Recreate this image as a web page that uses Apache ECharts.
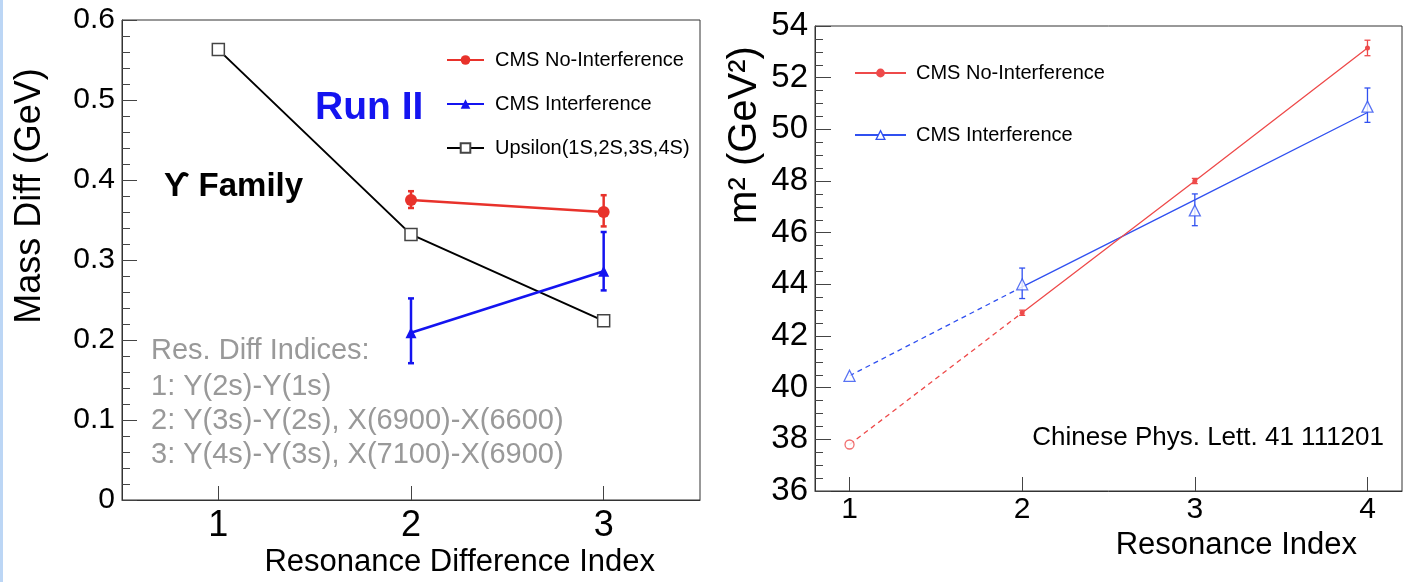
<!DOCTYPE html>
<html>
<head>
<meta charset="utf-8">
<script src="https://cdn.jsdelivr.net/npm/echarts@6/dist/echarts.min.js"></script>
<style>
  html, body { margin: 0; padding: 0; background: #fff; }
  #main { width: 1407px; height: 582px; }
  #edge { position: absolute; left: 0; top: 0; width: 3px; height: 582px; background: #bcd6f5; }
</style>
</head>
<body>
<div id="main"></div>
<div id="edge"></div>
<script>
// left panel: mass differences
var diffIndex = [1, 2, 3];
var upsilonDiff = [0.563, 0.332, 0.224];
var noIntDiff = [null, 0.375, 0.360];
var noIntDiffUp = [null, 0.011, 0.021];
var noIntDiffDown = [null, 0.010, 0.018];
var intDiff = [null, 0.209, 0.286];
var intDiffUp = [null, 0.043, 0.049];
var intDiffDown = [null, 0.038, 0.024];
var leftTicks = [1, 2, 3];

// right panel: m^2 vs resonance index
var resIndex = [1, 2, 3, 4];
var noIntM2 = [37.8, 42.9, 48.0, 53.15];
var noIntM2Up = [null, 0.1, 0.1, 0.3];
var noIntM2Down = [null, 0.1, 0.1, 0.3];
var intM2 = [40.46, 44.0, 46.86, 50.88];
var intM2Up = [null, 0.63, 0.64, 0.72];
var intM2Down = [null, 0.55, 0.59, 0.61];
var intFit = [40.46, 43.9, 47.27, 50.65];
var rightTicks = [1, 2, 3, 4];

var FONT = "'Liberation Sans', 'DejaVu Sans', sans-serif";
var RED = '#e8322b', BLUE = '#1414f0', RED2 = '#ee4a4a', BLUE2 = '#3050f0';

function pairs(xs, ys, from, to) {
    var out = [];
    for (var i = from; i <= to; i++) {
        if (ys[i] != null) out.push([xs[i], ys[i]]);
    }
    return out;
}
function errRows(xs, ys, up, down) {
    var out = [];
    for (var i = 0; i < xs.length; i++) {
        if (up[i] != null) out.push([xs[i], ys[i] - down[i], ys[i] + up[i]]);
    }
    return out;
}
function errorBars(name, xi, yi, data, color, cap, width) {
    return {
        name: name, type: 'custom', xAxisIndex: xi, yAxisIndex: yi, data: data, z: 3,
        renderItem: function (params, api) {
            var lo = api.coord([api.value(0), api.value(1)]);
            var hi = api.coord([api.value(0), api.value(2)]);
            var st = { stroke: color, lineWidth: width };
            return { type: 'group', children: [
                { type: 'line', shape: { x1: lo[0], y1: lo[1], x2: hi[0], y2: hi[1] }, style: st },
                { type: 'line', shape: { x1: lo[0] - cap, y1: lo[1], x2: lo[0] + cap, y2: lo[1] }, style: st },
                { type: 'line', shape: { x1: hi[0] - cap, y1: hi[1], x2: hi[0] + cap, y2: hi[1] }, style: st }
            ]};
        }
    };
}

var rightNames = { r_noint: 'CMS No-Interference', r_int: 'CMS Interference' };

var myChart = echarts.init(document.getElementById('main'));

var option = {
    animation: false,
    backgroundColor: '#fff',
    grid: [
        { left: 122, top: 20, width: 578, height: 480, show: true, borderColor: '#333', borderWidth: 1 },
        { left: 815, top: 26, width: 587, height: 465, show: true, borderColor: '#333', borderWidth: 1 }
    ],
    xAxis: [
        {
            gridIndex: 0, type: 'value', min: 0.5, max: 3.5,
            axisLine: { lineStyle: { color: '#333' } }, splitLine: { show: false },
            axisTick: { inside: true, length: 14, customValues: leftTicks, lineStyle: { color: '#444' } },
            axisLabel: { color: '#000', fontFamily: FONT, fontSize: 36, margin: 8, customValues: leftTicks }
        },
        {
            gridIndex: 1, type: 'value', min: 0.8, max: 4.2,
            axisLine: { lineStyle: { color: '#333' } }, splitLine: { show: false },
            axisTick: { inside: true, length: 14, customValues: rightTicks, lineStyle: { color: '#444' } },
            axisLabel: { color: '#000', fontFamily: FONT, fontSize: 30, margin: 4, customValues: rightTicks }
        }
    ],
    yAxis: [
        {
            gridIndex: 0, type: 'value', min: 0, max: 0.6, interval: 0.1,
            axisLine: { show: true, lineStyle: { color: '#333' } }, splitLine: { show: false },
            axisTick: { inside: true, length: 15, lineStyle: { color: '#444' } },
            minorTick: { show: true, splitNumber: 5, length: 8, lineStyle: { color: '#444' } },
            axisLabel: { color: '#000', fontFamily: FONT, fontSize: 30, margin: 7,
                formatter: function (v) { return v === 0 ? '0' : v.toFixed(1); } }
        },
        {
            gridIndex: 1, type: 'value', min: 36, max: 54, interval: 2,
            axisLine: { show: true, lineStyle: { color: '#333' } }, splitLine: { show: false },
            axisTick: { inside: true, length: 16, lineStyle: { color: '#444' } },
            minorTick: { show: true, splitNumber: 4, length: 8, lineStyle: { color: '#444' } },
            axisLabel: { color: '#000', fontFamily: FONT, fontSize: 33, margin: 7 }
        }
    ],
    legend: [
        {
            left: 441, top: 45, orient: 'vertical', itemWidth: 37, itemHeight: 12, itemGap: 24,
            data: ['CMS No-Interference', 'CMS Interference', 'Upsilon(1S,2S,3S,4S)'],
            textStyle: { fontFamily: FONT, fontSize: 20, color: '#000', lineHeight: 20, padding: [0, 0, 0, 6] }
        },
        {
            left: 849, top: 58, orient: 'vertical', itemWidth: 51, itemHeight: 11, itemGap: 42,
            data: [
                { name: 'r_noint', itemStyle: { color: RED2, borderWidth: 0 } },
                { name: 'r_int', itemStyle: { color: '#fff', borderColor: BLUE2, borderWidth: 1.3 } }
            ],
            formatter: function (n) { return rightNames[n]; },
            textStyle: { fontFamily: FONT, fontSize: 20, color: '#000', lineHeight: 20, padding: [0, 0, 0, 5] }
        }
    ],
    graphic: [
        { type: 'text', x: 30, y: 196, rotation: Math.PI / 2,
          style: { text: 'Mass Diff (GeV)', font: '36px ' + FONT, fill: '#000', align: 'center', verticalAlign: 'middle' } },
        { type: 'text', x: 655, y: 562,
          style: { text: 'Resonance Difference Index', font: '31px ' + FONT, fill: '#000', align: 'right', verticalAlign: 'middle' } },
        { type: 'text', x: 315, y: 108,
          style: { text: 'Run II', font: 'bold 39px ' + FONT, fill: '#1414f0', align: 'left', verticalAlign: 'middle' } },
        { type: 'text', x: 164, y: 187,
          style: { text: 'ϒ Family', font: 'bold 33px ' + FONT, fill: '#000', align: 'left', verticalAlign: 'middle' } },
        { type: 'text', x: 151, y: 351,
          style: { text: 'Res. Diff Indices:', font: '29px ' + FONT, fill: '#999', align: 'left', verticalAlign: 'middle' } },
        { type: 'text', x: 151, y: 387,
          style: { text: '1: Y(2s)-Y(1s)', font: '29px ' + FONT, fill: '#999', align: 'left', verticalAlign: 'middle' } },
        { type: 'text', x: 151, y: 421,
          style: { text: '2: Y(3s)-Y(2s), X(6900)-X(6600)', font: '29px ' + FONT, fill: '#999', align: 'left', verticalAlign: 'middle' } },
        { type: 'text', x: 151, y: 455,
          style: { text: '3: Y(4s)-Y(3s), X(7100)-X(6900)', font: '29px ' + FONT, fill: '#999', align: 'left', verticalAlign: 'middle' } },
        { type: 'text', x: 745, y: 135, rotation: Math.PI / 2,
          style: { text: 'm² (GeV²)', font: '40px ' + FONT, fill: '#000', align: 'center', verticalAlign: 'middle' } },
        { type: 'text', x: 1357, y: 545,
          style: { text: 'Resonance Index', font: '31px ' + FONT, fill: '#000', align: 'right', verticalAlign: 'middle' } },
        { type: 'text', x: 1384, y: 438,
          style: { text: 'Chinese Phys. Lett. 41 111201', font: '26px ' + FONT, fill: '#000', align: 'right', verticalAlign: 'middle' } }
    ],
    series: [
        {
            name: 'Upsilon(1S,2S,3S,4S)', type: 'line', xAxisIndex: 0, yAxisIndex: 0,
            data: pairs(diffIndex, upsilonDiff, 0, 2),
            symbol: 'rect', symbolSize: 12, color: '#000',
            itemStyle: { color: '#fff', borderColor: '#444', borderWidth: 1.5 },
            lineStyle: { color: '#000', width: 2 }, z: 2
        },
        {
            name: 'CMS No-Interference', type: 'line', xAxisIndex: 0, yAxisIndex: 0,
            data: pairs(diffIndex, noIntDiff, 0, 2),
            symbol: 'circle', symbolSize: 12, color: RED,
            itemStyle: { color: RED }, lineStyle: { color: RED, width: 2.5 }, z: 4
        },
        errorBars('noIntDiffErr', 0, 0, errRows(diffIndex, noIntDiff, noIntDiffUp, noIntDiffDown), RED, 3, 2.5),
        {
            name: 'CMS Interference', type: 'line', xAxisIndex: 0, yAxisIndex: 0,
            data: pairs(diffIndex, intDiff, 0, 2),
            symbol: 'triangle', symbolSize: 11, color: BLUE,
            itemStyle: { color: BLUE }, lineStyle: { color: BLUE, width: 2.5 }, z: 4
        },
        errorBars('intDiffErr', 0, 0, errRows(diffIndex, intDiff, intDiffUp, intDiffDown), BLUE, 3, 2.5),

        // right panel
        {
            name: 'r_noint', type: 'line', xAxisIndex: 1, yAxisIndex: 1,
            data: pairs(resIndex, noIntM2, 1, 3),
            symbol: 'circle', symbolSize: 5, color: RED2,
            itemStyle: { color: RED2 }, lineStyle: { color: RED2, width: 1.3 }, z: 4
        },
        {
            name: 'noIntExtrap', type: 'line', xAxisIndex: 1, yAxisIndex: 1,
            data: pairs(resIndex, noIntM2, 0, 1),
            symbol: 'none', lineStyle: { color: RED2, width: 1.3, type: [5, 4] }, z: 3
        },
        {
            name: 'noIntPred', type: 'scatter', xAxisIndex: 1, yAxisIndex: 1,
            data: pairs(resIndex, noIntM2, 0, 0),
            symbol: 'circle', symbolSize: 9,
            itemStyle: { color: '#fff', borderColor: RED2, borderWidth: 1.3 }, z: 5
        },
        errorBars('noIntM2Err', 1, 1, errRows(resIndex, noIntM2, noIntM2Up, noIntM2Down), RED2, 3, 1.3),
        {
            name: 'r_int', type: 'line', xAxisIndex: 1, yAxisIndex: 1,
            data: pairs(resIndex, intFit, 1, 3),
            symbol: 'triangle', showSymbol: false, color: BLUE2,
            lineStyle: { color: BLUE2, width: 1.3 }, z: 3
        },
        {
            name: 'intExtrap', type: 'line', xAxisIndex: 1, yAxisIndex: 1,
            data: pairs(resIndex, intFit, 0, 1),
            symbol: 'none', lineStyle: { color: BLUE2, width: 1.3, type: [5, 4] }, z: 3
        },
        {
            name: 'intPoints', type: 'scatter', xAxisIndex: 1, yAxisIndex: 1,
            data: pairs(resIndex, intM2, 0, 3),
            symbol: 'triangle', symbolSize: 11,
            itemStyle: { color: '#fff', borderColor: BLUE2, borderWidth: 1.3 }, z: 5
        },
        errorBars('intM2Err', 1, 1, errRows(resIndex, intM2, intM2Up, intM2Down), BLUE2, 3, 1.3)
    ]
};

myChart.setOption(option);
</script>
</body>
</html>
